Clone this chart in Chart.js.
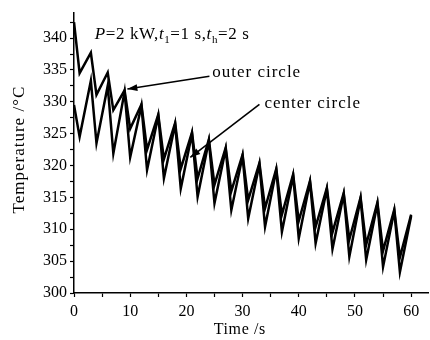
<!DOCTYPE html>
<html>
<head>
<meta charset="utf-8">
<script src="https://cdn.jsdelivr.net/npm/chart.js@4.4.1/dist/chart.umd.min.js"></script>
<style>
html,body{margin:0;padding:0;background:#fff;}
#wrap{width:430px;height:340px;position:relative;}
</style>
</head>
<body>
<div id="wrap"><canvas id="c" width="430" height="340"></canvas></div>
<script>
// Time points (s): start, then alternating min (end of cooling) and peak
const times = [0,1,3,4,6,7,9,10,12,13,15,16,18,19,21,22,24,25,27,28,30,31,33,34,36,37,39,40,42,43,45,46,48,49,51,52,54,55,57,58,60];
const outerCircle = [342.5,334.5,337.7,331.1,334.6,328.7,331.8,325.8,329.6,322.5,328.0,321.0,326.7,319.5,325.2,318.0,324.1,317.0,322.8,316.0,321.7,314.6,320.4,313.3,319.5,312.3,318.6,311.3,317.6,310.4,316.5,309.5,315.7,308.4,315.0,307.6,314.2,306.6,313.1,305.6,312.3];
const centerCircle = [329.5,324.5,333.3,323.5,332.5,321.9,331.6,321.3,329.4,319.3,327.8,318.0,326.5,316.4,325.0,315.1,323.9,314.1,322.6,313.0,321.5,311.7,320.2,310.4,319.3,309.6,318.4,308.6,317.4,307.8,316.3,306.9,315.5,305.7,314.8,305.2,314.0,304.1,312.9,303.3,312.1];
const xTickLabels = [0,10,20,30,40,50,60];
const yTickLabels = [300,305,310,315,320,325,330,335,340];
const xTitle = 'Time /s';
const yTitle = 'Temperature /°C';

const serif = '"Liberation Serif","Times New Roman",serif';

function pts(vals){ return times.map((t,i)=>({x:t,y:vals[i]})); }

const annot = {
  id:'annot',
  afterDatasetsDraw(chart){
    const {ctx, scales:{x,y}, chartArea:ca} = chart;
    const P = (t,v)=>[x.getPixelForValue(t), y.getPixelForValue(v)];
    ctx.save();
    ctx.fillStyle='#000'; ctx.strokeStyle='#000';
    ctx.textBaseline='middle';
    // parameter text
    let [tx,ty] = P(3.7, 340.5);
    ctx.letterSpacing='0.6px';
    const seg = [
      ['P','italic 17px '+serif,0],['=2 kW,','17px '+serif,0],
      ['t','italic 17px '+serif,0],['1','11px '+serif,5],['=1 s,','17px '+serif,0],
      ['t','italic 17px '+serif,0],['h','11px '+serif,5],['=2 s','17px '+serif,0]
    ];
    for(const [s,f,dy] of seg){ ctx.font=f; ctx.fillText(s,tx,ty+dy); tx+=ctx.measureText(s).width; }
    ctx.font='17px '+serif;
    ctx.letterSpacing='1px';
    let [ox,oy] = P(24.6, 334.6);
    ctx.fillText('outer circle', ox, oy);
    let [cx,cy] = P(33.9, 329.8);
    ctx.fillText('center circle', cx, cy);
    // axis titles
    ctx.font='16px '+serif;
    ctx.letterSpacing='0.6px';
    ctx.textAlign='center';
    ctx.fillText(xTitle, x.getPixelForValue(29.5), 330);
    ctx.save();
    ctx.translate(20, y.getPixelForValue(322.5));
    ctx.rotate(-Math.PI/2);
    ctx.font='17px '+serif;
    ctx.letterSpacing='1px';
    ctx.fillText(yTitle, 0, 0);
    ctx.restore();
    ctx.letterSpacing='0px';
    function arrow(a,b,head){
      ctx.lineWidth=1.6;
      ctx.beginPath(); ctx.moveTo(a[0],a[1]); ctx.lineTo(b[0],b[1]); ctx.stroke();
      if(head){
        const ang=Math.atan2(b[1]-a[1],b[0]-a[0]);
        const L=10,W=3.4;
        ctx.beginPath();
        ctx.moveTo(b[0],b[1]);
        ctx.lineTo(b[0]-L*Math.cos(ang)+W*Math.sin(ang), b[1]-L*Math.sin(ang)-W*Math.cos(ang));
        ctx.lineTo(b[0]-L*Math.cos(ang)-W*Math.sin(ang), b[1]-L*Math.sin(ang)+W*Math.cos(ang));
        ctx.closePath(); ctx.fill();
      }
    }
    arrow(P(24.1,334.0), P(9.5,332.0), true);
    arrow(P(33.0,329.6), P(20.7,321.3), true);
    ctx.restore();
  }
};

new Chart(document.getElementById('c'), {
  type:'line',
  data:{
    datasets:[
      {label:'outer circle', data:pts(outerCircle), borderColor:'#000', borderWidth:2.5, pointRadius:0, tension:0, fill:false},
      {label:'center circle', data:pts(centerCircle), borderColor:'#000', borderWidth:2.5, pointRadius:0, tension:0, fill:false}
    ]
  },
  options:{
    responsive:false, animation:false, devicePixelRatio:1,
    layout:{padding:{top:12,right:2,left:0,bottom:0}},
    plugins:{legend:{display:false}, tooltip:{enabled:false}},
    scales:{
      x:{
        type:'linear', min:0, max:63,
        afterBuildTicks(ax){
          const a=[]; for(let v=0; v<=60; v+=5) a.push({value:v}); ax.ticks=a;
        },
        afterFit(s){ s.height=47; },
        ticks:{
          autoSkip:false, maxRotation:0, padding:5, color:'#000',
          font:{family:serif,size:16},
          callback:(v)=> xTickLabels.includes(v) ? String(v) : ''
        },
        grid:{drawOnChartArea:false, drawTicks:true, tickLength:4, color:'#000', tickWidth:1.2},
        border:{display:true, color:'#000', width:1.5},
        title:{display:false}
      },
      y:{
        type:'linear', min:300, max:344,
        afterBuildTicks(ax){
          const a=[]; for(let v=300; v<=342.5; v+=2.5) a.push({value:v}); ax.ticks=a;
        },
        afterFit(s){ s.width=74; },
        ticks:{
          autoSkip:false, padding:3, color:'#000',
          font:{family:serif,size:16},
          callback:(v)=> yTickLabels.includes(v) ? String(v) : ''
        },
        grid:{drawOnChartArea:false, drawTicks:true, tickLength:4, color:'#000', tickWidth:1.2},
        border:{display:true, color:'#000', width:1.5},
        title:{display:false}
      }
    }
  },
  plugins:[annot]
});
</script>
</body>
</html>
